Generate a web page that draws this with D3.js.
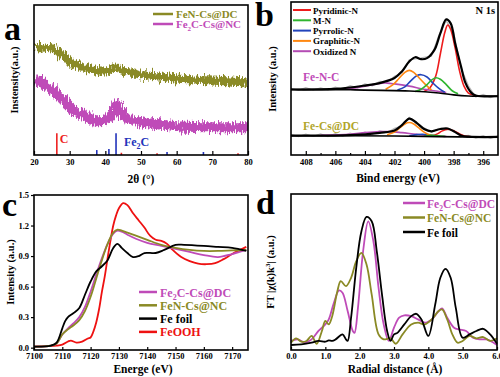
<!DOCTYPE html>
<html>
<head>
<meta charset="utf-8">
<script src="https://cdn.jsdelivr.net/npm/d3@7"></script>
<style>
  body { margin: 0; background: #fff; }
  svg text { font-family: "Liberation Serif", "Times New Roman", "Liberation Sans Narrow", "Liberation Sans", Arial, sans-serif; font-weight: bold; }
</style>
</head>
<body>
<svg id="fig" width="500" height="377"></svg>
<script>
// ---------- panel a : XRD ----------
const xrdAngle = [20, 23, 26, 28, 30, 33, 36, 40, 43, 47, 50, 55, 60, 65, 70, 75, 80];
const xrdFeN   = [72.2, 71.5, 70.2, 66.2, 62.3, 58.9, 57.0, 56.3, 57.6, 55.0, 53.6, 52.3, 51.0, 50.3, 49.7, 49.0, 48.3];
const xrdAngle2 = [20, 23, 26, 28, 30, 32, 35, 38, 40, 41.5, 42.6, 43.3, 44.0, 45, 46.5, 50, 55, 60, 70, 80];
const xrdFe2C   = [50.3, 47.0, 41.7, 37.1, 32.5, 28.5, 25.2, 22.5, 23.2, 25.8, 30.5, 34.0, 30.0, 26.5, 24.2, 21.9, 20.5, 19.2, 18.5, 18.5];
const refC    = [[26.4, 14.5], [44.5, 1.5], [54.5, 1.2], [77.2, 1.2]];
const refFe2C = [[37.6, 3.3], [41.0, 4.0], [43.0, 14.5], [57.3, 2.0], [67.5, 2.0]];
const xrdTicks = [20, 30, 40, 50, 60, 70, 80];

// ---------- panel b : N 1s XPS ----------
const xpsE = [409, 408.5, 408, 407.5, 407, 406.5, 406, 405.5, 405, 404.5, 404, 403.5, 403, 402.5, 402,
              401.5, 401, 400.5, 400, 399.5, 399, 398.5, 398, 397.5, 397, 396.5, 396, 395.5, 395];
const rawTop = [43.6, 42.2, 44.0, 42.5, 43.9, 42.6, 44.4, 42.9, 45.3, 43.9, 46.5, 45.2, 48.2, 47.6, 51.4,
                53.8, 62.2, 62.9, 63.9, 64.6, 78.2, 87.7, 80.1, 56.8, 45.2, 37.9, 39.6, 37.5, 39.2];
const rawLow = [13.5, 12.0, 13.6, 12.2, 13.8, 12.1, 14.0, 12.4, 14.3, 12.9, 15.0, 13.6, 15.8, 14.6, 17.4,
                19.0, 24.6, 20.3, 17.8, 14.8, 17.4, 16.5, 16.3, 12.2, 12.9, 11.0, 12.7, 10.9, 12.5];
const envTop = [[409, 42.8], [406, 43.2], [404, 45.4], [403, 47], [402, 50.3], [401.5, 54.6], [401, 61.1],
                [400.6, 63.9], [400.2, 62.6], [399.8, 63.3], [399.3, 68.7], [398.9, 79.5], [398.5, 88.6],
                [398.2, 86], [397.9, 73], [397.5, 57.9], [397.2, 47.1], [396.8, 40.6], [396.5, 38.9], [395, 38.4]];
const bgTop  = [[409, 42.8], [405, 42.6], [401, 41.8], [399, 40.5], [398, 39.3], [397, 38.6], [395, 38.4]];
const pyridTop = [[400.0, 41.5], [399.6, 44], [399.2, 52], [398.9, 66], [398.6, 80], [398.4, 85], [398.2, 82],
                  [397.9, 70], [397.6, 55], [397.3, 45], [397.0, 40.5], [396.6, 39]];
const mnTop    = [[400.6, 41.5], [400.2, 43], [399.8, 46], [399.5, 49], [399.2, 50.5], [398.9, 49.5],
                  [398.5, 46], [398.1, 42], [397.7, 40]];
const pyrrTop  = [[401.8, 42.5], [401.3, 44.5], [400.9, 48.5], [400.5, 51.8], [400.2, 52.5], [399.8, 51],
                  [399.4, 47], [399.0, 43.5], [398.6, 41]];
const graphTop = [[402.6, 43], [402.1, 46], [401.7, 50], [401.3, 54], [401.0, 55.3], [400.7, 54],
                  [400.3, 50], [399.9, 46], [399.5, 42.5]];
const oxTop    = [[406, 43], [405, 43.5], [404, 45], [403, 46.8], [402.5, 47], [402, 46.5], [401, 45],
                  [400, 43], [399, 41.5], [398.5, 40.8]];
const envLow = [[409, 12.7], [405, 13], [403, 14.5], [402, 16], [401.5, 19.5], [401, 23.8], [400.5, 21],
                [400, 17], [399.5, 15.5], [398.9, 17], [398.4, 17.3], [398, 15.5], [397.5, 12.8], [397, 12], [395, 11.8]];
const bgLow  = [[409, 12.6], [402, 12.4], [399, 12], [397, 11.8], [395, 11.8]];
const pyridLow = [[399.5, 12.4], [399.1, 13.8], [398.8, 15.6], [398.4, 16.8], [398.0, 15.8], [397.6, 13.8],
                  [397.2, 12.3], [396.8, 11.9]];
const mnLow    = [[400, 12.3], [399.5, 12.8], [399, 12.6], [398.6, 12.2]];
const pyrrLow  = [[401, 12.6], [400.5, 13.3], [400.1, 13.6], [399.7, 13.2], [399.3, 12.5]];
const graphLow = [[402.5, 13.2], [402, 15], [401.6, 18], [401.3, 20.3], [401.0, 21.2], [400.7, 20.3],
                  [400.4, 18], [400.0, 15], [399.6, 13], [399.2, 12.3]];
const oxLow    = [[407, 12.8], [405, 13.5], [404, 14.6], [403, 15.3], [402.3, 15.3], [401.5, 14.6],
                  [400.5, 13.5], [399.5, 12.6], [398.5, 12.2]];
const xpsNames  = ["Pyridinic-N", "M-N", "Pyrrolic-N", "Graphitic-N", "Oxidized N"];
const xpsColors = ["#ee1c1c", "#2fb52f", "#2244bb", "#ff8811", "#b44cb4"];
const xpsTicks  = [408, 406, 404, 402, 400, 398, 396];

// ---------- panel c : XANES ----------
const xanE   = [7100, 7106, 7108, 7110, 7112, 7114, 7116, 7118, 7120, 7122, 7124, 7126, 7128, 7129.5,
                7131, 7133, 7136, 7140, 7145, 7150, 7155, 7160, 7165, 7170, 7175];
const xanFe2C = [0.01, 0.02, 0.04, 0.13, 0.19, 0.24, 0.30, 0.40, 0.55, 0.72, 0.88, 1.02, 1.12, 1.15,
                 1.14, 1.11, 1.07, 1.03, 1.00, 0.97, 0.94, 0.91, 0.89, 0.92, 0.96];
const xanFeN  = [0.01, 0.02, 0.04, 0.13, 0.18, 0.22, 0.27, 0.36, 0.50, 0.68, 0.86, 1.02, 1.13, 1.16,
                 1.15, 1.13, 1.10, 1.06, 1.01, 0.98, 0.96, 0.95, 0.95, 0.955, 0.96];
const foilE  = [7100, 7106, 7108, 7110, 7111, 7112, 7114, 7116, 7118, 7120, 7122, 7124, 7126, 7128, 7129.5,
                7131, 7133, 7135, 7137, 7139, 7143, 7146, 7150, 7153, 7160, 7165, 7170, 7175];
const xanFoil = [0.01, 0.02, 0.05, 0.19, 0.26, 0.30, 0.34, 0.39, 0.52, 0.65, 0.75, 0.80, 0.86, 0.98, 1.02,
                 0.98, 0.93, 0.89, 0.90, 0.93, 0.93, 0.96, 1.01, 1.01, 1.00, 0.99, 0.98, 0.95];
const oohE   = [7100, 7108, 7110, 7112, 7113, 7115, 7117, 7119, 7120, 7121, 7122, 7123, 7124, 7125, 7126,
                7127, 7128, 7129, 7130, 7131.5, 7133, 7135, 7137, 7139, 7141, 7143, 7145, 7147, 7149,
                7152, 7155, 7158, 7161, 7164, 7167, 7170, 7175];
const xanOOH = [0.01, 0.02, 0.03, 0.06, 0.07, 0.05, 0.06, 0.09, 0.10, 0.16, 0.25, 0.38, 0.55, 0.70, 0.88,
                1.05, 1.20, 1.30, 1.37, 1.42, 1.40, 1.32, 1.25, 1.18, 1.10, 1.06, 1.05, 1.02, 0.96,
                0.89, 0.85, 0.825, 0.82, 0.83, 0.87, 0.92, 0.99];
const xanTicksX = [7100, 7110, 7120, 7130, 7140, 7150, 7160, 7170];
const xanTicksY = [0.0, 0.3, 0.6, 0.9, 1.2, 1.5];

// ---------- panel d : FT-EXAFS ----------
const ftFoil = [[0, 3.2], [0.3, 3.6], [0.6, 4.7], [0.8, 5.8], [1.0, 5.3], [1.1, 6.2], [1.2, 5.8], [1.3, 6.8],
                [1.5, 10], [1.6, 6.8], [1.65, 5.8], [1.75, 20.7], [1.9, 52.7], [2.05, 76], [2.2, 85.3],
                [2.35, 82.5], [2.5, 63], [2.65, 35.6], [2.8, 12.2], [2.9, 5.8], [3.0, 10], [3.1, 11],
                [3.3, 16.4], [3.5, 21.7], [3.65, 23.2], [3.8, 19.6], [4.0, 9], [4.2, 29.2], [4.35, 46.3],
                [4.5, 52], [4.65, 46.3], [4.8, 27], [5.0, 7.9], [5.2, 10], [5.4, 12.2], [5.6, 13.6],
                [5.8, 10], [6.0, 4]];
const ftFe2C = [[0, 5.8], [0.2, 6.8], [0.4, 4.7], [0.6, 6.8], [0.8, 12.2], [1.0, 16.4], [1.1, 19.6],
                [1.25, 30.3], [1.4, 38.2], [1.5, 36.7], [1.65, 25], [1.8, 12.2], [1.85, 11], [1.95, 27],
                [2.1, 63.3], [2.25, 82.5], [2.4, 69.7], [2.55, 39.9], [2.7, 16.4], [2.85, 5.8], [3.0, 14.3],
                [3.15, 20.7], [3.3, 22.2], [3.5, 21.7], [3.7, 19.6], [3.9, 17.5], [4.1, 19.6], [4.3, 25],
                [4.4, 26.7], [4.55, 20.7], [4.75, 14.3], [4.9, 13.2], [5.1, 12.2], [5.3, 7.9], [5.5, 6.8],
                [5.7, 6.8], [5.9, 4.7], [6.0, 3.2]];
const ftFeN  = [[0, 4.7], [0.15, 7.5], [0.3, 5.3], [0.45, 5.8], [0.6, 9], [0.75, 4], [0.9, 12.2], [1.0, 18.6],
                [1.1, 16.4], [1.2, 21.7], [1.35, 37.7], [1.45, 44.1], [1.6, 40.9], [1.75, 46.3], [1.9, 56.9],
                [2.05, 62.3], [2.2, 54.8], [2.35, 35.6], [2.55, 10], [2.7, 6.8], [2.9, 7.5], [3.05, 4],
                [3.25, 10], [3.5, 16.4], [3.7, 17.5], [3.9, 16.4], [4.1, 19.6], [4.3, 25], [4.4, 26],
                [4.55, 19.6], [4.7, 10], [4.85, 4.7], [5.0, 5.8], [5.2, 9], [5.4, 7.5], [5.6, 8.3],
                [5.8, 5.8], [6.0, 7.5]];
const ftTicks = [0, 1, 2, 3, 4, 5, 6];

const MAG = "#bf4bb8", OLIVE = "#8a8a25";

const svg = d3.select("#fig");

// noisy look for the XRD traces
const defs = svg.append("defs");
const flt = defs.append("filter").attr("id", "noise")
  .attr("x", "-5%").attr("y", "-40%").attr("width", "110%").attr("height", "180%");
flt.append("feTurbulence").attr("type", "fractalNoise")
  .attr("baseFrequency", "1.3 0.12").attr("numOctaves", 2).attr("seed", 3).attr("result", "t");
flt.append("feDisplacementMap").attr("in", "SourceGraphic").attr("in2", "t")
  .attr("scale", 12).attr("xChannelSelector", "R").attr("yChannelSelector", "G");

function panel(x0, y0) {
  return svg.append("g").attr("transform", `translate(${x0},${y0})`);
}
function frame(g, w, h) {
  g.append("rect").attr("width", w).attr("height", h)
    .attr("fill", "none").attr("stroke", "#000").attr("stroke-width", 1.6);
}
function styleAxis(a) {
  a.select(".domain").remove();
  a.selectAll(".tick line").attr("stroke", "#000").attr("stroke-width", 1.2);
  a.selectAll("text").style("font-size", "8.5px").attr("fill", "#000");
}
function letter(x, y, s) {
  svg.append("text").attr("x", x).attr("y", y).text(s)
    .style("font-size", "34px").attr("fill", "#000");
}
function yTitle(x, y, s) {
  return svg.append("text").attr("transform", `translate(${x},${y}) rotate(-90)`)
    .attr("text-anchor", "middle").style("font-size", "10.5px").text(s);
}
function xTitle(x, y, s) {
  return svg.append("text").attr("x", x).attr("y", y)
    .attr("text-anchor", "middle").style("font-size", "11.5px").text(s);
}
function fe2cLabel(tx, rest, sub) {
  tx.append("tspan").text("Fe");
  tx.append("tspan").text("2").attr("dy", 3).style("font-size", sub);
  tx.append("tspan").text(rest).attr("dy", -3);
}

// ================= a =================
{
  const W = 214, H = 150;
  const g = panel(34, 5);
  const x = d3.scaleLinear().domain([20, 80]).range([0, W]);
  const y = d3.scaleLinear().domain([0, 100]).range([H, 0]);
  const line = d3.line().x(d => x(d[0])).y(d => y(d[1])).curve(d3.curveCatmullRom);
  defs.append("clipPath").attr("id", "clipA").append("rect").attr("width", W).attr("height", H);
  const cg = g.append("g").attr("clip-path", "url(#clipA)");
  cg.append("path").datum(d3.zip(xrdAngle, xrdFeN)).attr("d", line)
    .attr("fill", "none").attr("stroke", OLIVE).attr("stroke-width", 8).attr("filter", "url(#noise)");
  cg.append("path").datum(d3.zip(xrdAngle2, xrdFe2C)).attr("d", line)
    .attr("fill", "none").attr("stroke", MAG).attr("stroke-width", 10).attr("filter", "url(#noise)");
  g.selectAll(".refC").data(refC).enter().append("line")
    .attr("x1", d => x(d[0])).attr("x2", d => x(d[0])).attr("y1", y(0)).attr("y2", d => y(d[1]))
    .attr("stroke", "#ee2222").attr("stroke-width", 1.6);
  g.selectAll(".refF").data(refFe2C).enter().append("line")
    .attr("x1", d => x(d[0])).attr("x2", d => x(d[0])).attr("y1", y(0)).attr("y2", d => y(d[1]))
    .attr("stroke", "#2233bb").attr("stroke-width", 1.6);
  g.append("text").attr("x", x(27.2)).attr("y", y(8)).text("C")
    .attr("fill", "#ee2222").style("font-size", "12px");
  fe2cLabel(g.append("text").attr("x", x(45.2)).attr("y", y(6)).attr("fill", "#2233bb").style("font-size", "12px"), "C", "8px");
  const ax = g.append("g").attr("transform", `translate(0,${H})`)
    .call(d3.axisBottom(x).tickValues(xrdTicks).tickSize(-4).tickPadding(4));
  styleAxis(ax);
  frame(g, W, H);
  [["FeN-Cs@DC", OLIVE], ["Fe2C-Cs@NC", MAG]].forEach((d, i) => {
    const ly = 9 + i * 10;
    g.append("line").attr("x1", 119).attr("x2", 139).attr("y1", ly).attr("y2", ly)
      .attr("stroke", d[1]).attr("stroke-width", 2.5);
    const tx = g.append("text").attr("x", 142).attr("y", ly + 4).attr("fill", d[1]).style("font-size", "11px");
    if (i === 1) fe2cLabel(tx, "C-Cs@NC", "7px"); else tx.text(d[0]);
  });
  letter(4, 40, "a");
  yTitle(18, 80, "Instensity(a.u.)");
  xTitle(141, 183, "2θ (°)");
}

// ================= b =================
{
  const W = 207, H = 153;
  const g = panel(291, 2);
  const x = d3.scaleLinear().domain([409, 395]).range([0, W]);
  const y = d3.scaleLinear().domain([0, 100]).range([H, 0]);
  const line = d3.line().x(d => x(d[0])).y(d => y(d[1])).curve(d3.curveCatmullRom);
  const lin = d3.line().x(d => x(d[0])).y(d => y(d[1]));
  [rawTop, rawLow].forEach(r => {
    g.append("path").datum(d3.zip(xpsE, r)).attr("d", lin)
      .attr("fill", "none").attr("stroke", "#b8b8b8").attr("stroke-width", 1.2);
  });
  const comps = [[pyridTop, oxTop, pyrrTop, graphTop, mnTop], [pyridLow, oxLow, pyrrLow, graphLow, mnLow]];
  const compIdx = [0, 4, 2, 3, 1];
  comps.forEach(set => {
    set.forEach((c, k) => {
      g.append("path").datum(c).attr("d", line).attr("fill", "none")
        .attr("stroke", xpsColors[compIdx[k]]).attr("stroke-width", 1.6);
    });
  });
  [bgTop, bgLow].forEach(b => g.append("path").datum(b).attr("d", line)
    .attr("fill", "none").attr("stroke", "#000").attr("stroke-width", 1.6));
  [envTop, envLow].forEach(e => g.append("path").datum(e).attr("d", line)
    .attr("fill", "none").attr("stroke", "#000").attr("stroke-width", 2.2));
  const ax = g.append("g").attr("transform", `translate(0,${H})`)
    .call(d3.axisBottom(x).tickValues(xpsTicks).tickSize(-4).tickPadding(4));
  styleAxis(ax);
  const mn = g.append("g").attr("transform", `translate(0,${H})`)
    .call(d3.axisBottom(x).tickValues([407, 405, 403, 401, 399, 397]).tickSize(-2).tickFormat(""));
  styleAxis(mn);
  frame(g, W, H);
  xpsNames.forEach((n, i) => {
    const ly = 8 + i * 10.3;
    g.append("line").attr("x1", 2).attr("x2", 20).attr("y1", ly).attr("y2", ly)
      .attr("stroke", xpsColors[i]).attr("stroke-width", 2);
    g.append("text").attr("x", 22).attr("y", ly + 3.5).text(n).style("font-size", "9px");
  });
  g.append("text").attr("x", W - 3).attr("y", 12).attr("text-anchor", "end").text("N 1s").style("font-size", "10.5px");
  g.append("text").attr("x", 12).attr("y", 79).text("Fe-N-C").attr("fill", MAG).style("font-size", "11.5px");
  g.append("text").attr("x", 12).attr("y", 128).text("Fe-Cs@DC").attr("fill", "#b0a52a").style("font-size", "11.5px");
  letter(255, 26, "b");
  yTitle(276, 79, "Intensity (a.u.)");
  xTitle(398, 182, "Bind energy (eV)");
}

// ================= c =================
{
  const W = 214, H = 155;
  const g = panel(34, 195);
  const x = d3.scaleLinear().domain([7100, 7175.6]).range([0, W]);
  const y = d3.scaleLinear().domain([-0.023, 1.5]).range([H, 0]);
  const line = d3.line().x(d => x(d[0])).y(d => y(d[1])).curve(d3.curveCatmullRom);
  const series = [[oohE, xanOOH, "#ee1111"], [xanE, xanFe2C, MAG], [xanE, xanFeN, OLIVE], [foilE, xanFoil, "#000"]];
  defs.append("clipPath").attr("id", "clipC").append("rect").attr("width", W).attr("height", H);
  const cg = g.append("g").attr("clip-path", "url(#clipC)");
  series.forEach(s => cg.append("path").datum(d3.zip(s[0], s[1])).attr("d", line)
    .attr("fill", "none").attr("stroke", s[2]).attr("stroke-width", 1.8));
  const ax = g.append("g").attr("transform", `translate(0,${H})`)
    .call(d3.axisBottom(x).tickValues(xanTicksX).tickSize(-3).tickPadding(3).tickFormat(d3.format("d")));
  styleAxis(ax);
  const ay = g.append("g").call(d3.axisLeft(y).tickValues(xanTicksY).tickSize(3).tickPadding(2).tickFormat(d3.format(".1f")));
  styleAxis(ay);
  frame(g, W, H);
  [["Fe2C-Cs@DC", MAG], ["FeN-Cs@NC", OLIVE], ["Fe foil", "#000"], ["FeOOH", "#ee1111"]].forEach((d, i) => {
    const ly = 97 + i * 13.3;
    g.append("line").attr("x1", 105).attr("x2", 123).attr("y1", ly).attr("y2", ly)
      .attr("stroke", d[1]).attr("stroke-width", 2.5);
    const tx = g.append("text").attr("x", 126).attr("y", ly + 4.5).attr("fill", d[1]).style("font-size", "12px");
    if (i === 0) fe2cLabel(tx, "C-Cs@DC", "8px"); else tx.text(d[0]);
  });
  letter(2, 216, "c");
  yTitle(14, 272, "Intensity (a.u.)");
  xTitle(143, 373, "Energe (eV)");
}

// ================= d =================
{
  const W = 206, H = 156;
  const g = panel(291, 194);
  const x = d3.scaleLinear().domain([0, 6]).range([0, W]);
  const y = d3.scaleLinear().domain([0, 100]).range([H, 0]);
  const line = d3.line().x(d => x(d[0])).y(d => y(d[1])).curve(d3.curveCatmullRom);
  [[ftFe2C, MAG], [ftFeN, OLIVE], [ftFoil, "#000"]].forEach(s =>
    g.append("path").datum(s[0]).attr("d", line).attr("fill", "none")
      .attr("stroke", s[1]).attr("stroke-width", 1.8));
  const ax = g.append("g").attr("transform", `translate(0,${H})`)
    .call(d3.axisBottom(x).tickValues(ftTicks).tickSize(-3).tickPadding(3));
  styleAxis(ax);
  frame(g, W, H);
  [["Fe2C-Cs@DC", MAG], ["FeN-Cs@NC", OLIVE], ["Fe foil", "#000"]].forEach((d, i) => {
    const ly = 9 + i * 14.5;
    g.append("line").attr("x1", 112).attr("x2", 134).attr("y1", ly).attr("y2", ly)
      .attr("stroke", d[1]).attr("stroke-width", 2.5);
    const tx = g.append("text").attr("x", 136).attr("y", ly + 4.5).attr("fill", d[1]).style("font-size", "11.5px");
    if (i === 0) fe2cLabel(tx, "C-Cs@DC", "7.5px"); else tx.text(d[0]);
  });
  letter(256, 214, "d");
  const yt = yTitle(274, 272, "");
  yt.append("tspan").text("FT |χ(k)k");
  yt.append("tspan").text("3").attr("dy", -4).style("font-size", "7px");
  yt.append("tspan").text("| (a.u.)").attr("dy", 4);
  xTitle(395, 373, "Radial distance (Å)");
}
</script>
</body>
</html>
